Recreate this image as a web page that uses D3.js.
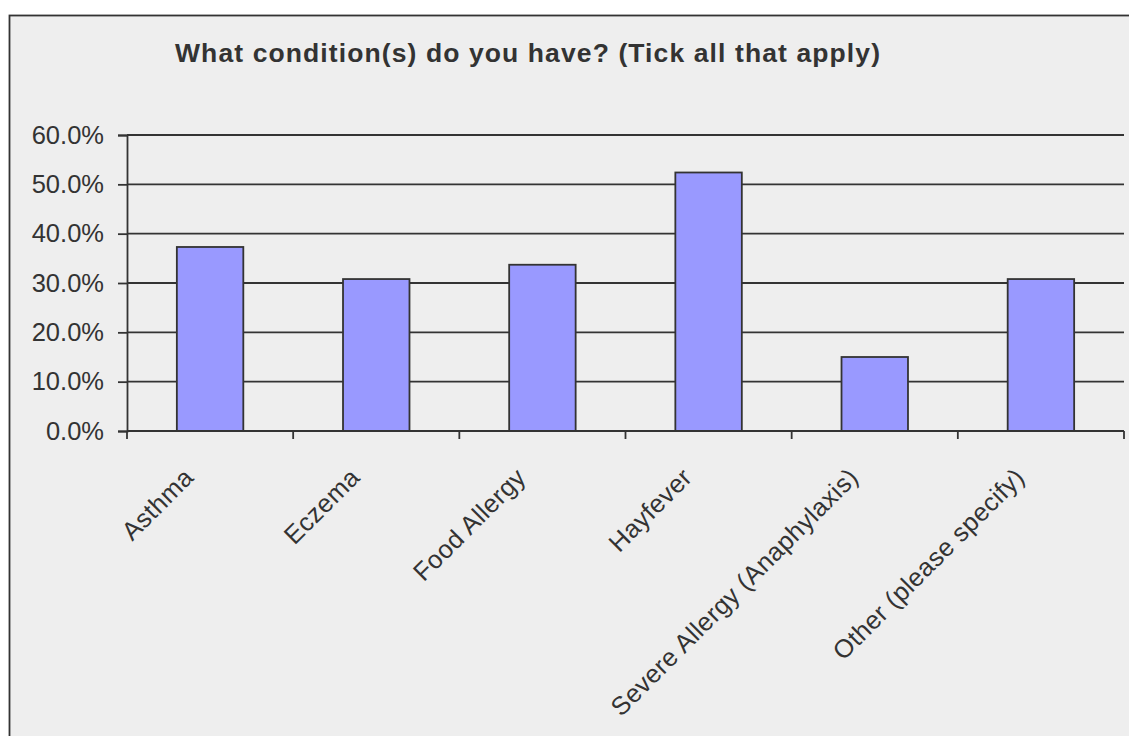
<!DOCTYPE html>
<html>
<head>
<meta charset="utf-8">
<script src="https://cdn.jsdelivr.net/npm/d3@7"></script>
<style>
  html, body { margin: 0; padding: 0; background: #ffffff; }
  svg { display: block; }
  text { font-family: "Liberation Sans", Arial, sans-serif; fill: #333333; }
</style>
</head>
<body>
<svg id="chart" width="1129" height="736"></svg>
<script>
// Survey answers: share of respondents reporting each condition
const categories = [
  "Asthma",
  "Eczema",
  "Food Allergy",
  "Hayfever",
  "Severe Allergy (Anaphylaxis)",
  "Other (please specify)"
];
const values = [0.373, 0.308, 0.337, 0.524, 0.150, 0.308];
const yTicks = [0, 0.1, 0.2, 0.3, 0.4, 0.5, 0.6];
const title = "What condition(s) do you have? (Tick all that apply)";

const svg = d3.select("#chart");
const W = 1129, H = 736;
const ink = "#333333";
const labelSize = 25.5;

// chart frame
svg.append("rect")
  .attr("x", 9.5).attr("y", 15.5)
  .attr("width", W + 20).attr("height", H + 20)
  .attr("fill", "#eeeeee")
  .attr("stroke", ink).attr("stroke-width", 1.8);

// title
svg.append("text")
  .attr("x", 175).attr("y", 62)
  .attr("font-size", 26.5)
  .attr("font-weight", "bold")
  .attr("textLength", 705)
  .attr("lengthAdjust", "spacing")
  .text(title);

const plot = { left: 127, right: 1124, top: 135, bottom: 431 };

const x = d3.scaleBand()
  .domain(categories)
  .range([plot.left, plot.right])
  .paddingInner(0.6)
  .paddingOuter(0.3);

const y = d3.scaleLinear()
  .domain([0, 0.6])
  .range([plot.bottom, plot.top]);

// horizontal gridlines
svg.append("g")
  .selectAll("line")
  .data(yTicks.filter(d => d > 0))
  .join("line")
  .attr("x1", plot.left).attr("x2", plot.right)
  .attr("y1", d => y(d)).attr("y2", d => y(d))
  .attr("stroke", ink).attr("stroke-width", 1.8);

// bars
svg.append("g")
  .selectAll("rect")
  .data(values)
  .join("rect")
  .attr("x", (d, i) => x(categories[i]))
  .attr("width", x.bandwidth())
  .attr("y", d => y(d))
  .attr("height", d => y(0) - y(d))
  .attr("fill", "#9999ff")
  .attr("stroke", ink)
  .attr("stroke-width", 1.8);

// y axis
const yAxis = d3.axisLeft(y)
  .tickValues(yTicks)
  .tickFormat(d3.format(".1%"))
  .tickSize(9)
  .tickPadding(14);
const gy = svg.append("g")
  .attr("transform", `translate(${plot.left},0)`)
  .call(yAxis);
gy.select(".domain").attr("stroke", ink).attr("stroke-width", 1.8);
gy.selectAll(".tick line").attr("stroke", ink).attr("stroke-width", 1.8);
gy.selectAll(".tick text")
  .attr("font-size", labelSize)
  .attr("font-family", "Liberation Sans, Arial, sans-serif")
  .attr("fill", ink);

// x axis: ticks at category boundaries
const boundaries = d3.range(categories.length + 1)
  .map(i => plot.left + i * x.step());
svg.append("line")
  .attr("x1", plot.left).attr("x2", plot.right)
  .attr("y1", plot.bottom).attr("y2", plot.bottom)
  .attr("stroke", ink).attr("stroke-width", 1.8);
svg.append("g")
  .selectAll("line")
  .data(boundaries)
  .join("line")
  .attr("x1", d => d).attr("x2", d => d)
  .attr("y1", plot.bottom).attr("y2", plot.bottom + 8)
  .attr("stroke", ink).attr("stroke-width", 1.8);

// rotated category labels
svg.append("g")
  .selectAll("text")
  .data(categories)
  .join("text")
  .attr("transform", d => `translate(${x(d) + x.bandwidth() / 2 - 15},${plot.bottom + 48}) rotate(-45)`)
  .attr("text-anchor", "end")
  .attr("font-size", labelSize)
  .attr("letter-spacing", 0.4)
  .text(d => d);
</script>
</body>
</html>
